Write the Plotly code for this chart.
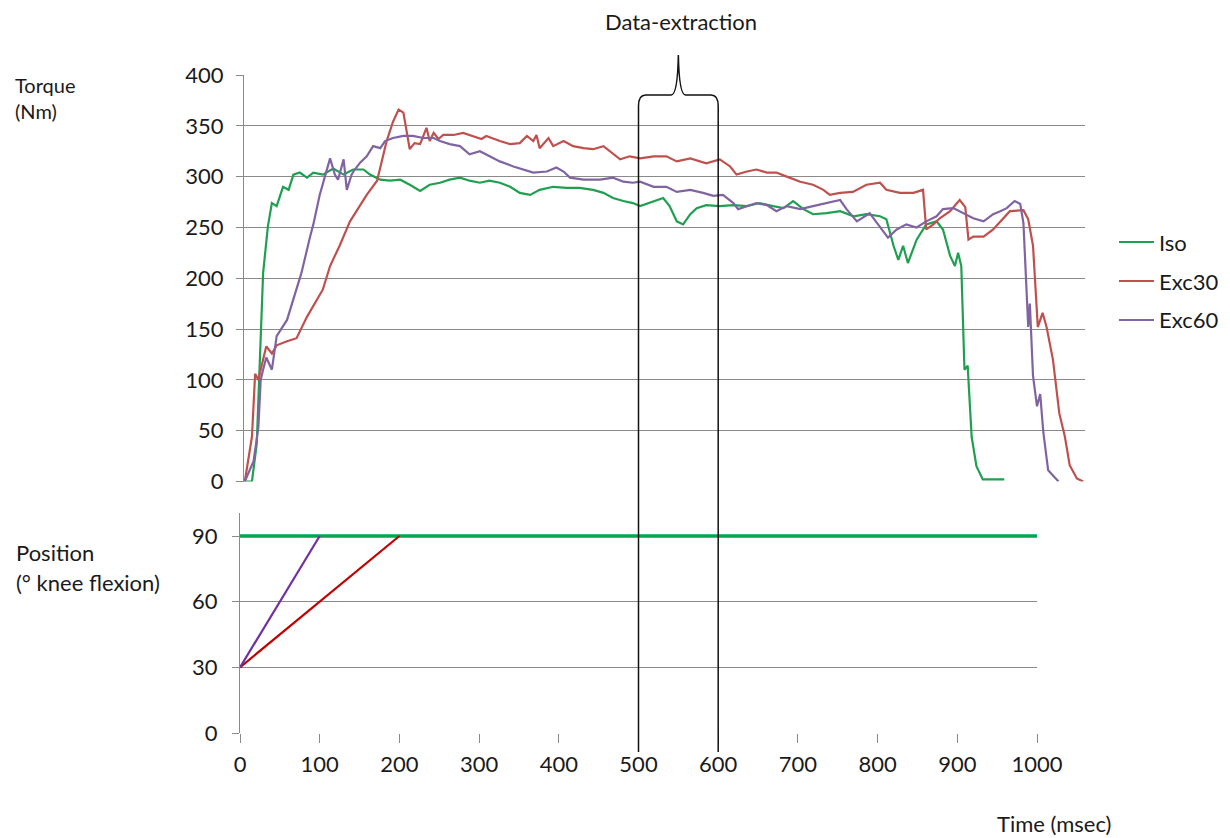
import plotly.graph_objects as go

# ---------------- data ----------------
iso_t = [6, 15, 21, 25, 29, 35, 40, 46, 54, 61, 67, 75, 84, 92, 104, 117, 130, 142, 155, 163, 176, 188, 201, 213, 226, 238, 251, 263, 276, 288, 301, 313, 326, 339, 351, 364, 376, 393, 410, 426, 443, 456, 468, 481, 493, 502, 514, 531, 539, 548, 556, 565, 573, 585, 602, 619, 636, 652, 669, 682, 694, 707, 719, 736, 753, 770, 786, 803, 811, 820, 826, 832, 838, 849, 861, 874, 882, 891, 897, 901, 905, 907, 909, 913, 918, 924, 932, 959]
iso_v = [0, 0, 37, 120, 205, 251, 274, 271, 290, 287, 302, 304, 299, 304, 302, 308, 302, 307, 307, 302, 297, 296, 297, 292, 286, 292, 294, 297, 299, 296, 294, 296, 294, 290, 284, 282, 287, 290, 289, 289, 287, 284, 279, 276, 274, 271, 274, 279, 271, 256, 253, 263, 269, 272, 271, 272, 271, 274, 271, 269, 276, 268, 263, 264, 266, 261, 263, 261, 258, 232, 218, 232, 215, 238, 253, 256, 248, 222, 212, 225, 212, 169, 110, 114, 44, 15, 2, 2]

exc30_t = [6, 15, 19, 23, 29, 33, 40, 46, 59, 71, 84, 96, 104, 113, 125, 138, 159, 172, 184, 192, 199, 205, 209, 213, 219, 226, 234, 238, 243, 249, 255, 268, 280, 293, 303, 309, 326, 339, 351, 360, 368, 372, 376, 387, 393, 406, 418, 431, 443, 456, 468, 477, 489, 502, 519, 535, 548, 565, 585, 602, 615, 623, 636, 648, 661, 673, 686, 703, 719, 732, 740, 753, 769, 786, 803, 811, 828, 845, 857, 861, 870, 878, 891, 903, 910, 914, 920, 933, 945, 954, 966, 983, 989, 995, 1001, 1007, 1012, 1020, 1028, 1035, 1041, 1050, 1058]
exc30_v = [0, 44, 106, 100, 120, 133, 126, 134, 138, 141, 162, 179, 189, 212, 232, 256, 282, 296, 335, 354, 366, 363, 345, 327, 333, 332, 348, 335, 343, 337, 341, 341, 343, 340, 337, 340, 335, 332, 333, 340, 335, 341, 328, 338, 330, 335, 330, 328, 327, 330, 323, 317, 320, 318, 320, 320, 315, 318, 313, 317, 310, 302, 305, 307, 304, 304, 300, 295, 292, 287, 282, 284, 285, 292, 294, 287, 284, 284, 287, 248, 253, 259, 266, 277, 270, 238, 241, 241, 248, 256, 266, 267, 258, 232, 152, 166, 152, 120, 67, 44, 16, 3, 0]

exc60_t = [6, 17, 23, 26, 29, 33, 40, 46, 59, 67, 77, 88, 92, 100, 107, 113, 119, 123, 130, 134, 140, 144, 151, 159, 167, 176, 182, 192, 205, 217, 230, 243, 251, 263, 276, 288, 301, 313, 326, 343, 355, 368, 385, 397, 406, 414, 431, 452, 468, 481, 493, 502, 519, 535, 548, 565, 581, 594, 606, 619, 625, 636, 648, 661, 673, 686, 703, 719, 736, 753, 761, 774, 790, 803, 813, 824, 836, 849, 861, 874, 882, 895, 907, 920, 933, 945, 954, 962, 972, 979, 983, 987, 989, 991, 995, 1000, 1004, 1008, 1014, 1027]
exc60_v = [0, 20, 53, 100, 110, 122, 110, 143, 159, 179, 205, 241, 253, 282, 302, 318, 302, 297, 317, 287, 302, 307, 314, 320, 330, 328, 335, 338, 340, 340, 338, 338, 335, 332, 330, 322, 325, 320, 315, 310, 307, 304, 305, 309, 305, 299, 297, 297, 299, 295, 294, 295, 290, 290, 285, 287, 284, 281, 282, 274, 268, 271, 274, 272, 266, 271, 268, 271, 274, 277, 268, 256, 264, 251, 240, 248, 253, 250, 256, 261, 268, 269, 264, 259, 256, 263, 266, 269, 276, 273, 254, 185, 152, 175, 104, 74, 86, 48, 11, 0]

pos_iso_t = [0, 1000]
pos_iso_v = [90, 90]
pos_exc30_t = [0, 200]
pos_exc30_v = [30, 90]
pos_exc60_t = [0, 100]
pos_exc60_v = [30, 90]

series_names = ["Iso", "Exc30", "Exc60"]
torque_ticks = [0, 50, 100, 150, 200, 250, 300, 350, 400]
position_ticks = [0, 30, 60, 90]
time_ticks = [0, 100, 200, 300, 400, 500, 600, 700, 800, 900, 1000]
extract_window = [500, 600]

# ---------------- styling ----------------
W, H = 1230, 838
FONT = "Lato"
FS = 22
GRID = "#8a8a8a"
TXT = "#1a1a1a"
TOP_COLORS = ["#1fa050", "#c0504d", "#8064a2"]
BOTTOM_COLORS = ["#00a651", "#c00000", "#7030a0"]


def px(x):
    return x / W


def py(y):
    return 1 - y / H


fig = go.Figure()
for name, t, v, c in zip(series_names, [iso_t, exc30_t, exc60_t], [iso_v, exc30_v, exc60_v], TOP_COLORS):
    fig.add_trace(go.Scatter(x=t, y=v, mode="lines", name=name, line=dict(color=c, width=2.2),
                             xaxis="x", yaxis="y", showlegend=False))

for name, t, v, c, w in zip(series_names, [pos_iso_t, pos_exc30_t, pos_exc60_t],
                            [pos_iso_v, pos_exc30_v, pos_exc60_v], BOTTOM_COLORS, [3.4, 2.2, 2.2]):
    fig.add_trace(go.Scatter(x=t, y=v, mode="lines", name=name, line=dict(color=c, width=w),
                             xaxis="x2", yaxis="y2", showlegend=False, hoverinfo="skip"))

# pixel -> time mapping derived from the bottom axis (0 at 240 px, 1000 at 1037 px)
ms_per_px = 1000 / (1037 - 240)
top_x0 = (244 - 240) * ms_per_px
top_x1 = (1085 - 240) * ms_per_px
y2_max = (733 - 513) / ((733 - 536) / 90)

fig.update_layout(
    width=W, height=H,
    margin=dict(l=0, r=0, t=0, b=0, autoexpand=False),
    paper_bgcolor="white", plot_bgcolor="white",
    font=dict(family=FONT, size=FS, color=TXT),
    showlegend=False,
    xaxis=dict(domain=[px(244), px(1085)], range=[top_x0, top_x1], showgrid=False,
               showticklabels=False, showline=False, zeroline=False, ticks="", automargin=False),
    yaxis=dict(domain=[py(481.5), py(75)], range=[0, 400], tickvals=torque_ticks,
               showgrid=True, gridcolor=GRID, gridwidth=1, zeroline=False,
               showline=True, linecolor=GRID, linewidth=1, automargin=False,
               ticks="outside", ticklen=7, tickcolor=GRID, ticklabelstandoff=8),
    xaxis2=dict(domain=[px(240), px(1037)], range=[0, 1000], tickvals=time_ticks,
                showgrid=False, zeroline=False, showline=False, automargin=False,
                ticks="outside", ticklen=9, tickcolor=GRID, anchor="y2", ticklabelstandoff=3),
    yaxis2=dict(domain=[py(733), py(513)], range=[0, y2_max],
                tickvals=position_ticks, showgrid=True, gridcolor=GRID, gridwidth=1,
                zeroline=False, showline=True, linecolor=GRID, linewidth=1, automargin=False,
                ticks="outside", ticklen=7, tickcolor=GRID, anchor="x2", ticklabelstandoff=10),
)

ann = [
    dict(text="Torque<br>(Nm)", x=px(13), y=py(98), xanchor="left", align="left", size=20),
    dict(text="Position", x=px(14), y=py(552), xanchor="left", size=FS),
    dict(text="(° knee flexion)", x=px(14), y=py(582), xanchor="left", size=FS),
    dict(text="Data-extraction", x=px(681), y=py(21), xanchor="center", size=FS),
    dict(text="Time (msec)", x=px(1054), y=py(823), xanchor="center", size=FS),
]
for a in ann:
    size = a.pop("size")
    fig.add_annotation(xref="paper", yref="paper", showarrow=False, yanchor="middle",
                       font=dict(family=FONT, size=size, color=TXT), **a)

# manual legend
for i, (name, c) in enumerate(zip(series_names, TOP_COLORS)):
    ly = py(242 + 39 * i)
    fig.add_shape(type="line", xref="paper", yref="paper", x0=px(1119), x1=px(1154), y0=ly, y1=ly,
                  line=dict(color=c, width=2.2))
    fig.add_annotation(xref="paper", yref="paper", x=px(1157), y=ly, text=name, showarrow=False,
                       xanchor="left", yanchor="middle", font=dict(family=FONT, size=FS, color=TXT))

# data-extraction bracket (x in bottom time axis units)
a, b = extract_window
mid = (a + b) / 2
r = 9
yb, yl, yh, yp = py(752), py(106), py(95), py(55)
path = (f"M {a},{yb} L {a},{yl} Q {a},{yh} {a + r},{yh} L {mid - r},{yh} "
        f"Q {mid - 1},{yh} {mid},{yp} Q {mid + 1},{yh} {mid + r},{yh} "
        f"L {b - r},{yh} Q {b},{yh} {b},{yl} L {b},{yb}")
fig.add_shape(type="path", path=path, xref="x2", yref="paper",
              line=dict(color="#111111", width=1.5), layer="above")

fig.write_html("out.html", config={"displayModeBar": False},
               post_script="document.body.style.margin='0';")
